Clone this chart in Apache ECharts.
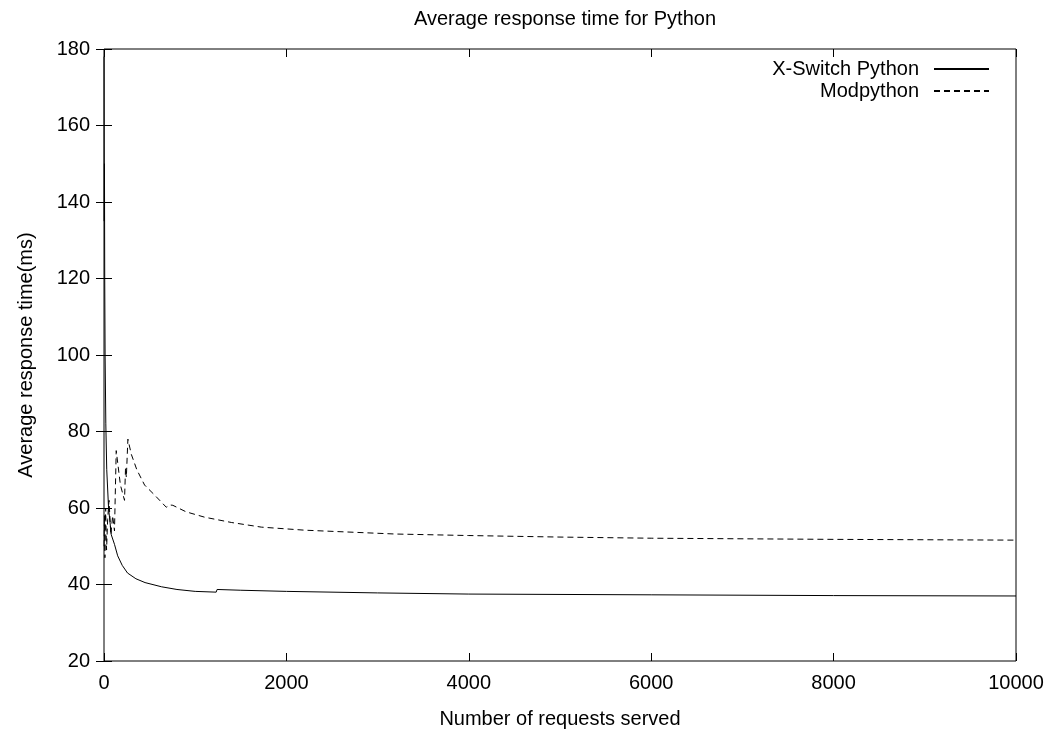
<!DOCTYPE html>
<html>
<head>
<meta charset="utf-8">
<script src="https://cdn.jsdelivr.net/npm/echarts@6/dist/echarts.min.js"></script>
<style>
  html, body { margin: 0; padding: 0; background: #fff; }
  #main { width: 1053px; height: 729px; }
</style>
</head>
<body>
<div id="main"></div>
<script>
// 曲线数据 [请求数, 平均响应时间]
let xswitchData = [
    [1, 178], [3, 135], [5, 150], [8, 120], [12, 100], [20, 82], [30, 70],
    [50, 60], [80, 53], [115, 50.5], [150, 47.5], [200, 45], [258, 43],
    [350, 41.5], [450, 40.5], [631, 39.4], [800, 38.7], [1000, 38.2],
    [1230, 38.0], [1240, 38.7], [1500, 38.5], [2000, 38.2], [3000, 37.8],
    [4000, 37.5], [6000, 37.3], [8000, 37.1], [10000, 37.0]
];
let modpythonData = [
    [1, 50], [5, 58], [10, 47], [18, 60], [28, 49], [40, 57], [55, 62],
    [75, 53], [95, 58], [115, 54], [134, 75], [180, 66], [225, 62],
    [236, 70.5], [245, 68], [262, 78], [300, 74], [360, 70], [445, 66],
    [550, 63.5], [683, 60.2], [720, 60.8], [755, 60.7], [900, 59], [1103, 57.6],
    [1400, 56.2], [1725, 55], [2200, 54.2], [3189, 53.2], [4000, 52.8],
    [5000, 52.4], [6000, 52.1], [8000, 51.8], [10000, 51.6]
];
let seriesNames = ['X-Switch Python', 'Modpython'];

let chart = echarts.init(document.getElementById('main'));
let font = 'Liberation Sans';

let option = {
    backgroundColor: '#fff',
    animation: false,
    title: {
        text: 'Average response time for Python',
        left: 560,
        textAlign: 'center',
        top: 4,
        textStyle: { fontFamily: font, fontSize: 20, fontWeight: 'normal', color: '#000' }
    },
    legend: {
        data: seriesNames,
        orient: 'vertical',
        right: 58,
        top: 54,
        align: 'right',
        itemWidth: 55,
        itemHeight: 10,
        itemGap: 2,
        itemStyle: { opacity: 0 },
        textStyle: { fontFamily: font, fontSize: 20, color: '#000', padding: [0, 10, 0, 0] }
    },
    grid: {
        left: 104, right: 37, top: 49, bottom: 68,
        outerBoundsMode: 'none',
        show: true, borderColor: '#000', borderWidth: 1
    },
    xAxis: [{
        type: 'value', min: 0, max: 10000, interval: 2000,
        name: 'Number of requests served',
        nameLocation: 'middle', nameGap: 48,
        nameTextStyle: { fontFamily: font, fontSize: 20, color: '#000' },
        axisLine: { show: false },
        axisTick: { inside: true, length: 8, lineStyle: { color: '#000' } },
        axisLabel: {
            fontFamily: font, fontSize: 20, color: '#000', margin: 12,
            formatter: function (v) { return String(v); }
        },
        splitLine: { show: false }
    }, {
        type: 'value', min: 0, max: 10000, interval: 2000, position: 'top',
        axisLine: { show: false },
        axisTick: { inside: true, length: 8, lineStyle: { color: '#000' } },
        axisLabel: { show: false },
        splitLine: { show: false }
    }],
    yAxis: [{
        type: 'value', min: 20, max: 180, interval: 20,
        name: 'Average response time(ms)',
        nameLocation: 'middle', nameGap: 68, nameRotate: 90,
        nameTextStyle: { fontFamily: font, fontSize: 20, color: '#000' },
        axisLine: { show: false },
        axisTick: { inside: true, length: 8, lineStyle: { color: '#000' } },
        axisLabel: { fontFamily: font, fontSize: 20, color: '#000', margin: 14 },
        splitLine: { show: false }
    }, {
        type: 'value', min: 20, max: 180, interval: 20, position: 'right',
        axisLine: { show: false },
        axisTick: { inside: true, length: 8, lineStyle: { color: '#000' } },
        axisLabel: { show: false },
        splitLine: { show: false }
    }],
    series: [{
        name: seriesNames[0],
        type: 'line',
        data: xswitchData,
        symbol: 'none',
        lineStyle: { color: '#000', width: 1 },
        itemStyle: { color: '#000' }
    }, {
        name: seriesNames[1],
        type: 'line',
        data: modpythonData,
        symbol: 'none',
        lineStyle: { color: '#000', width: 1, type: [6, 4] },
        itemStyle: { color: '#000' }
    }]
};

chart.setOption(option);
</script>
</body>
</html>
